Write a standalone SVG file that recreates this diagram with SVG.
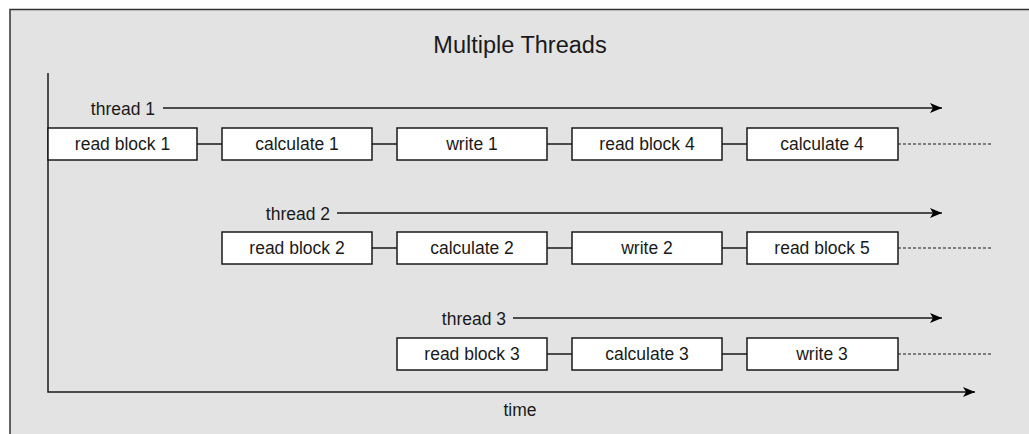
<svg xmlns="http://www.w3.org/2000/svg" width="1029" height="434" viewBox="0 0 1029 434">
<style>
text{font-family:"Liberation Sans",Arial,sans-serif;fill:#1a1a1a}
.box rect{fill:#fff;stroke:#1a1a1a;stroke-width:1.5}
.box text{font-size:17.5px;text-anchor:middle}
.lbl{font-size:17.5px}
.ln{stroke:#1a1a1a;stroke-width:1.5;fill:none}
.dot{stroke:#1a1a1a;stroke-width:1.2;stroke-dasharray:3,2;fill:none}
</style>
<defs>
<marker id="ah" markerWidth="12" markerHeight="10" refX="12" refY="5" orient="auto" markerUnits="userSpaceOnUse">
<path d="M0,0 L12,5 L0,10 L3,5 Z" fill="#000"/>
</marker>
</defs>
<rect x="10" y="9.5" width="1030" height="440" fill="#e3e3e3" stroke="#333" stroke-width="1.5"/>
<text x="520" y="53" font-size="23.5" text-anchor="middle">Multiple Threads</text>
<g id="connectors">
<path class="ln" d="M48,73 V392 H975" marker-end="url(#ah)"/>
<path class="ln" d="M163,108 H942" marker-end="url(#ah)"/>
<path class="ln" d="M337,213 H942" marker-end="url(#ah)"/>
<path class="ln" d="M513,318 H942" marker-end="url(#ah)"/>
<path class="ln" d="M197,144 H222 M372,144 H397 M547,144 H572 M722,144 H747"/>
<path class="ln" d="M372,248 H397 M547,248 H572 M722,248 H747"/>
<path class="ln" d="M547,354 H572 M722,354 H747"/>
<path class="dot" d="M898,144 H991 M898,248 H991 M898,354 H991"/>
</g>
<text class="lbl" x="155" y="115" text-anchor="end">thread 1</text>
<text class="lbl" x="330" y="220" text-anchor="end">thread 2</text>
<text class="lbl" x="506" y="325" text-anchor="end">thread 3</text>
<text class="lbl" x="520" y="416" text-anchor="middle">time</text>
<g id="t1b1" class="box"><rect x="48" y="128" width="149" height="32"/><text x="122.5" y="150">read block 1</text></g>
<g id="t1b2" class="box"><rect x="222" y="128" width="150" height="32"/><text x="297" y="150">calculate 1</text></g>
<g id="t1b3" class="box"><rect x="397" y="128" width="150" height="32"/><text x="472" y="150">write 1</text></g>
<g id="t1b4" class="box"><rect x="572" y="128" width="150" height="32"/><text x="647" y="150">read block 4</text></g>
<g id="t1b5" class="box"><rect x="747" y="128" width="151" height="32"/><text x="822" y="150">calculate 4</text></g>
<g id="t2b1" class="box"><rect x="222" y="232" width="150" height="32"/><text x="297" y="254">read block 2</text></g>
<g id="t2b2" class="box"><rect x="397" y="232" width="150" height="32"/><text x="472" y="254">calculate 2</text></g>
<g id="t2b3" class="box"><rect x="572" y="232" width="150" height="32"/><text x="647" y="254">write 2</text></g>
<g id="t2b4" class="box"><rect x="747" y="232" width="151" height="32"/><text x="822" y="254">read block 5</text></g>
<g id="t3b1" class="box"><rect x="397" y="338" width="150" height="32"/><text x="472" y="360">read block 3</text></g>
<g id="t3b2" class="box"><rect x="572" y="338" width="150" height="32"/><text x="647" y="360">calculate 3</text></g>
<g id="t3b3" class="box"><rect x="747" y="338" width="151" height="32"/><text x="822" y="360">write 3</text></g>
</svg>
